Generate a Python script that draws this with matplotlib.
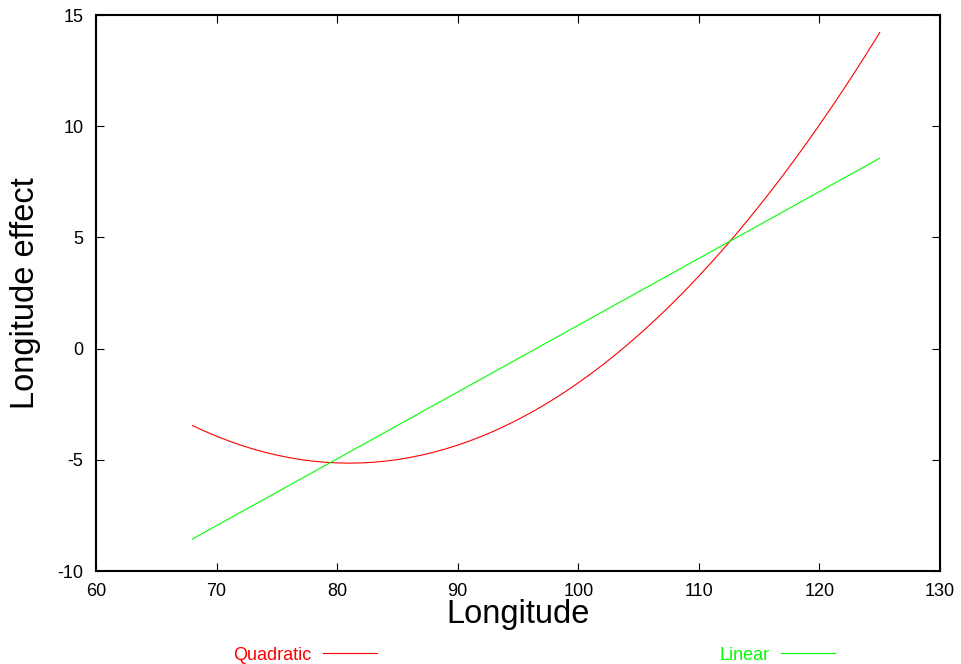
import matplotlib
matplotlib.use("Agg")
import matplotlib.pyplot as plt

plt.rcParams['font.family'] = ['Liberation Sans', 'DejaVu Sans']
plt.rcParams['axes.unicode_minus'] = False

# Quadratic longitude effect (one value per degree)
quad_x = list(range(68, 126))
quad_y = [-3.46, -3.71, -3.94, -4.15, -4.34, -4.51, -4.66, -4.79, -4.90, -4.99,
          -5.06, -5.11, -5.14, -5.15, -5.14, -5.11, -5.06, -4.99, -4.90, -4.79,
          -4.66, -4.51, -4.34, -4.15, -3.94, -3.71, -3.46, -3.19, -2.90, -2.59,
          -2.26, -1.91, -1.54, -1.15, -0.74, -0.31, 0.14, 0.61, 1.10, 1.61,
          2.14, 2.69, 3.26, 3.85, 4.46, 5.09, 5.74, 6.41, 7.10, 7.81,
          8.54, 9.29, 10.06, 10.85, 11.66, 12.49, 13.34, 14.21]

# Linear longitude effect
lin_x = [68, 125]
lin_y = [-8.56, 8.56]

x_ticks = [60, 70, 80, 90, 100, 110, 120, 130]
y_ticks = [-10, -5, 0, 5, 10, 15]

fig = plt.figure(figsize=(9.61, 6.64), dpi=100)
ax = fig.add_axes([96/961, 93/664, 844/961, 556/664])

l1, = ax.plot(quad_x, quad_y, color='#ff0000', lw=0.8, label='Quadratic')
l2, = ax.plot(lin_x, lin_y, color='#00ff00', lw=0.8, label='Linear')

ax.set_xlim(60, 130)
ax.set_ylim(-10, 15)
ax.set_xticks(x_ticks)
ax.set_yticks(y_ticks)
ax.tick_params(direction='in', length=5.5, width=0.8, labelsize=13,
               top=True, right=True, pad=9, colors='black')
ax.tick_params(axis='y', pad=9)
for s in ax.spines.values():
    s.set_linewidth(1.5)

ax.set_xlabel('Longitude', fontsize=23.5)
ax.set_ylabel('Longitude effect', fontsize=23.5)
ax.xaxis.set_label_coords(0.5, -0.05)
ax.yaxis.set_label_coords(-0.065, 0.5)

leg = fig.legend(handles=[l1, l2], loc='center', bbox_to_anchor=(534/961, 9/664),
                 ncol=2, frameon=False, fontsize=13, markerfirst=False,
                 handlelength=2.95, handletextpad=0.65, columnspacing=19,
                 borderaxespad=0, borderpad=0)
for t, c in zip(leg.get_texts(), ['#ff0000', '#00ff00']):
    t.set_color(c)

fig.savefig('out.png', dpi=100)
